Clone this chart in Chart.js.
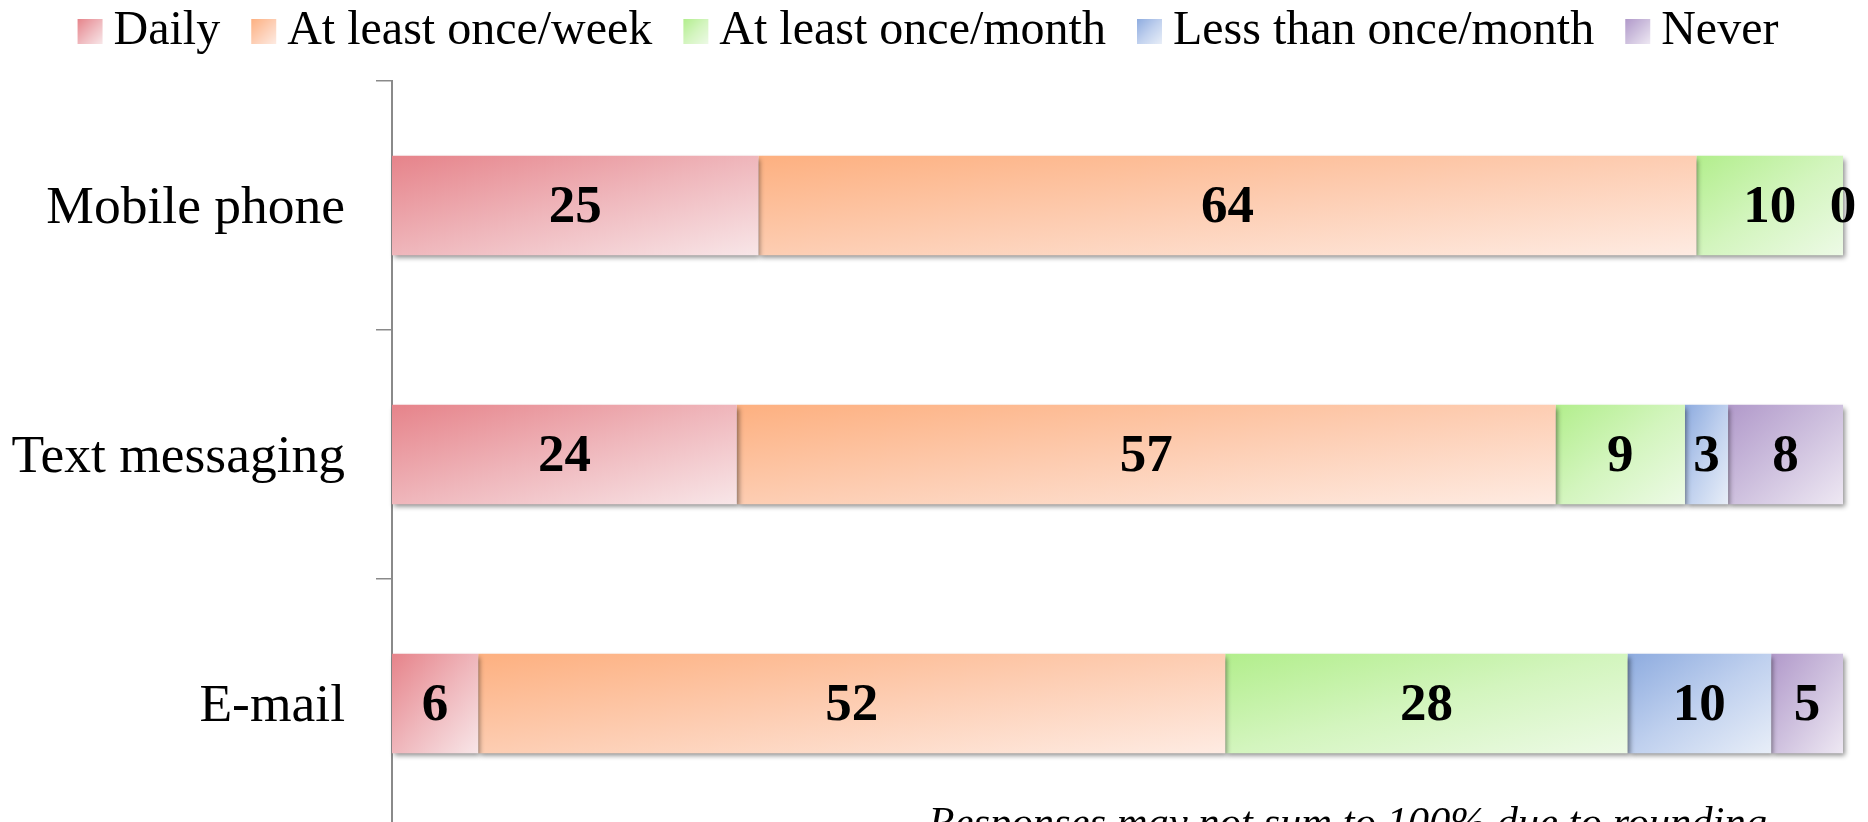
<!DOCTYPE html>
<html>
<head>
<meta charset="utf-8">
<script src="https://cdn.jsdelivr.net/npm/chart.js@4.4.1/dist/chart.umd.min.js"></script>
<style>
  html, body { margin: 0; padding: 0; background: #ffffff; overflow: hidden; width: 1868px; height: 822px; }
  #wrap { position: absolute; left: 0; top: 0; width: 1868px; height: 845px; }
</style>
</head>
<body>
<div id="wrap"><canvas id="c" width="1868" height="845"></canvas></div>
<script>
// ---- data ----
const categories = ['Mobile phone', 'Text messaging', 'E-mail'];
const seriesNames = ['Daily', 'At least once/week', 'At least once/month', 'Less than once/month', 'Never'];
const daily       = [25, 24, 6];
const weekly      = [64, 57, 52];
const monthly     = [10, 9, 28];
const lessMonthly = [0, 3, 10];
const never       = [null, 8, 5];
const footnote = 'Responses may not sum to 100% due to rounding';

// ---- styles ----
const colorStops = [
  ['#E6838A', '#EFB6BB', '#F8E6E8'],
  ['#FDB080', '#FDCDB2', '#FEEBE2'],
  ['#B2EE8C', '#D3F5BE', '#EDFAE6'],
  ['#8DABDF', '#BFD0EE', '#E8EEF8'],
  ['#B199CA', '#CEC0DE', '#EEE8F3']
];
const BAR_FRACTION = 0.4;
const SWATCH = 25;
const SWATCH_SHIFT = 13;

// ---- derived (100% stacked) ----
const raw = [daily, weekly, monthly, lessMonthly, never];
const totals = categories.map((_, j) => raw.reduce((s, arr) => s + (arr[j] || 0), 0));
const share = raw.map(arr => arr.map((v, j) => v == null ? null : v / totals[j] * 100));

function addStops(g, stops) {
  g.addColorStop(0, stops[0]);
  g.addColorStop(0.5, stops[1]);
  g.addColorStop(1, stops[2]);
  return g;
}
function rectGradient(ctx, stops, x0, y0, x1, y1) {
  const w = x1 - x0, h = y1 - y0;
  if (w <= 0 || h <= 0) return stops[1];
  const s = 2 * w * h / (w * w + h * h);
  return addStops(ctx.createLinearGradient(x0, y0, x0 + s * h, y0 + s * w), stops);
}
// legend swatch image: transparent margin on the left so the square sits closer to its text
function legendSwatch(i) {
  const cv = document.createElement('canvas');
  cv.width = SWATCH + 4 * SWATCH_SHIFT; cv.height = SWATCH;
  const c = cv.getContext('2d');
  const x0 = 3 * SWATCH_SHIFT;
  c.fillStyle = rectGradient(c, colorStops[i], x0, 0, x0 + SWATCH, SWATCH);
  c.fillRect(x0, 0, SWATCH, SWATCH);
  return cv;
}

function bgFor(d) {
  return function (ctx) {
    const stops = colorStops[d];
    if (ctx.type !== 'data') return stops[1];
    const chart = ctx.chart, xs = chart.scales.x, ys = chart.scales.y;
    if (!xs || !ys || !chart.chartArea) return stops[1];
    const i = ctx.dataIndex;
    let start = 0;
    for (let k = 0; k < d; k++) start += share[k][i] || 0;
    const v = share[d][i] || 0;
    const x0 = xs.getPixelForValue(start), x1 = xs.getPixelForValue(start + v);
    const yc = ys.getPixelForValue(i);
    const half = Math.abs(ys.getPixelForValue(1) - ys.getPixelForValue(0)) * BAR_FRACTION / 2;
    return rectGradient(chart.ctx, stops, x0, yc - half, x1, yc + half);
  };
}

const datasets = seriesNames.map((name, d) => ({
  label: name,
  data: share[d],
  backgroundColor: bgFor(d),
  borderWidth: 0,
  barPercentage: 1,
  categoryPercentage: BAR_FRACTION,
  clip: false
}));

const decorPlugin = {
  id: 'decor',
  beforeLayout(chart) {
    const lg = chart.legend;
    if (lg && !lg._patched) {
      const f = lg.fit.bind(lg);
      lg.fit = function () { f(); this.height += 16; };
      lg._patched = true;
    }
  },
  beforeDatasetsDraw(chart) {
    const ctx = chart.ctx;
    ctx.save();
    ctx.shadowColor = 'rgba(0,0,0,0.45)';
    ctx.shadowBlur = 5;
    ctx.shadowOffsetX = 2;
    ctx.shadowOffsetY = 3;
  },
  afterDatasetsDraw(chart) {
    const ctx = chart.ctx;
    ctx.restore();
    ctx.save();
    ctx.font = 'bold 53px "Liberation Serif", "Times New Roman", serif';
    ctx.fillStyle = '#000000';
    ctx.textAlign = 'center';
    ctx.textBaseline = 'middle';
    chart.data.datasets.forEach((ds, d) => {
      const meta = chart.getDatasetMeta(d);
      meta.data.forEach((el, i) => {
        const v = raw[d][i];
        if (v == null) return;
        ctx.fillText(String(v), (el.x + el.base) / 2, el.y + 3);
      });
    });
    ctx.restore();
  },
  afterDraw(chart) {
    const ctx = chart.ctx, a = chart.chartArea;
    ctx.save();
    ctx.font = 'italic 42.6px "Liberation Serif", "Times New Roman", serif';
    ctx.fillStyle = '#000000';
    ctx.textAlign = 'right';
    ctx.textBaseline = 'alphabetic';
    ctx.fillText(footnote, a.right - 76, a.bottom + 8);
    ctx.restore();
  }
};

new Chart(document.getElementById('c'), {
  type: 'bar',
  data: { labels: categories, datasets: datasets },
  options: {
    indexAxis: 'y',
    responsive: false,
    animation: false,
    events: [],
    layout: { padding: { top: -11, left: 0, right: 25, bottom: 17 } },
    scales: {
      x: { stacked: true, min: 0, max: 100, display: false },
      y: {
        stacked: true,
        offset: true,
        afterFit(scale) { scale.width = 392; scale.paddingTop = 0; scale.paddingBottom = 0; },
        border: { display: true, color: '#8a8a8a', width: 2 },
        grid: { display: true, offset: true, drawOnChartArea: false, drawTicks: true, tickLength: 16, color: '#8a8a8a', lineWidth: 1.5 },
        ticks: { color: '#000000', padding: 31, labelOffset: 3, font: { family: '"Liberation Serif", "Times New Roman", serif', size: 53.5 } }
      }
    },
    plugins: {
      tooltip: { enabled: false },
      legend: {
        position: 'top',
        align: 'center',
        labels: {
          usePointStyle: true,
          pointStyleWidth: SWATCH,
          boxHeight: SWATCH,
          padding: 18,
          color: '#000000',
          font: { family: '"Liberation Serif", "Times New Roman", serif', size: 48 },
          generateLabels(chart) {
            return chart.data.datasets.map((ds, i) => ({
              text: ds.label,
              fillStyle: colorStops[i][1],
              strokeStyle: 'rgba(0,0,0,0)',
              lineWidth: 0,
              pointStyle: legendSwatch(i),
              hidden: !chart.isDatasetVisible(i),
              datasetIndex: i
            }));
          }
        }
      }
    }
  },
  plugins: [decorPlugin]
});
</script>
</body>
</html>
